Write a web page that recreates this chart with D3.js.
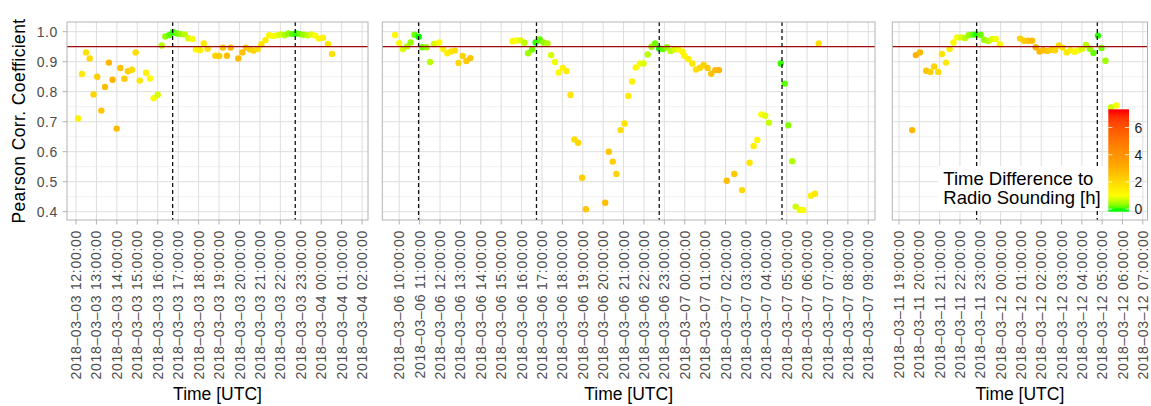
<!DOCTYPE html>
<html>
<head>
<meta charset="utf-8">
<script src="https://cdn.jsdelivr.net/npm/d3@7"></script>
<style>
  body { margin: 0; background: #fff; }
  text { font-family: "Liberation Sans", Arial, sans-serif; }
</style>
</head>
<body>
<div id="chart"></div>
<script>
// days the three panels start on
const panelDates = ['2018-03-03', '2018-03-06', '2018-03-11'];

// panel 1: time in hours after midnight of its start day, correlation, time diff [h]
const t1 = [12.10, 12.29, 12.49, 12.67, 12.86, 13.04, 13.24, 13.42, 13.61, 13.79, 13.99, 14.17, 14.37, 14.54, 14.74, 14.92,
  15.12, 15.43, 15.62, 15.80, 16.00, 16.19, 16.37, 16.57, 16.75, 16.94, 17.12, 17.32, 17.50, 17.69, 17.87, 18.07,
  18.25, 18.44, 18.82, 19.01, 19.19, 19.39, 19.57, 19.94, 20.14, 20.32, 20.52, 20.69, 20.89, 21.07, 21.27, 21.46,
  21.64, 21.84, 22.02, 22.21, 22.39, 22.59, 22.77, 22.96, 23.14, 23.34, 23.52, 23.71, 23.89, 24.09, 24.33, 24.53];
const r1 = [0.711, 0.859, 0.931, 0.911, 0.791, 0.850, 0.737, 0.816, 0.897, 0.840, 0.677, 0.879, 0.843, 0.868, 0.873, 0.931,
  0.837, 0.863, 0.844, 0.778, 0.790, 0.954, 0.984, 0.989, 0.998, 0.994, 0.992, 0.991, 0.978, 0.976, 0.941, 0.938,
  0.961, 0.943, 0.920, 0.919, 0.947, 0.920, 0.947, 0.911, 0.931, 0.947, 0.941, 0.937, 0.942, 0.958, 0.972, 0.988,
  0.986, 0.988, 0.991, 0.988, 0.994, 0.992, 0.994, 0.992, 0.990, 0.988, 0.991, 0.987, 0.977, 0.980, 0.959, 0.926];
const d1 = [1.37, 1.56, 1.76, 1.94, 2.13, 2.31, 2.51, 2.69, 2.88, 2.94, 2.74, 2.56, 2.36, 2.19, 1.99, 1.81,
  1.61, 1.30, 1.11, 0.93, 0.73, 0.54, 0.36, 0.16, 0.02, 0.21, 0.39, 0.59, 0.77, 0.96, 1.14, 1.34,
  1.52, 1.71, 2.09, 2.28, 2.46, 2.66, 2.84, 2.79, 2.59, 2.41, 2.21, 2.04, 1.84, 1.66, 1.46, 1.27,
  1.09, 0.89, 0.71, 0.52, 0.34, 0.14, 0.04, 0.23, 0.41, 0.61, 0.79, 0.98, 1.16, 1.36, 1.60, 1.80];
const sound1 = [16.73, 22.73];

// panel 2
const t2 = [9.80, 10.00, 10.18, 10.38, 10.56, 10.75, 10.95, 11.13, 11.33, 11.51, 11.70, 11.96, 12.16, 12.36, 12.54, 12.73,
  12.91, 13.11, 13.29, 13.49,
  15.56, 15.76, 15.94, 16.14, 16.32, 16.51, 16.69, 16.89, 17.07, 17.27, 17.45, 17.64, 17.82, 18.02, 18.20, 18.40,
  18.59, 18.77, 18.97, 19.15,
  20.10, 20.28, 20.47, 20.65, 20.85, 21.05, 21.23, 21.42, 21.60, 21.80, 21.98, 22.18, 22.37, 22.55, 22.75, 22.93,
  23.13, 23.31, 23.51, 23.69, 23.89, 23.98, 24.17, 24.37, 24.55, 24.75, 24.93, 25.12, 25.30, 25.50, 25.68,
  26.06, 26.43, 26.81, 27.18, 27.38, 27.56, 27.76, 27.95, 28.13, 28.71, 28.90, 29.08, 29.27, 29.44, 29.64, 29.81,
  30.19, 30.39, 30.57];
const r2 = [0.989, 0.962, 0.942, 0.951, 0.964, 0.990, 0.983, 0.948, 0.948, 0.899, 0.959, 0.964, 0.942, 0.928, 0.934, 0.937,
  0.896, 0.919, 0.902, 0.912,
  0.968, 0.971, 0.971, 0.963, 0.928, 0.941, 0.964, 0.974, 0.964, 0.961, 0.922, 0.899, 0.864, 0.879, 0.869, 0.789,
  0.641, 0.630, 0.513, 0.408,
  0.430, 0.600, 0.567, 0.526, 0.672, 0.694, 0.786, 0.834, 0.881, 0.894, 0.894, 0.924, 0.950, 0.961, 0.944, 0.942,
  0.948, 0.936, 0.941, 0.941, 0.933, 0.920, 0.909, 0.894, 0.874, 0.880, 0.889, 0.879, 0.860, 0.872, 0.872,
  0.503, 0.526, 0.472, 0.563, 0.619, 0.639, 0.724, 0.720, 0.697, 0.894, 0.827, 0.688, 0.568, 0.417, 0.406, 0.406,
  0.453, 0.460, 0.961];
const d2 = [1.15, 0.95, 0.77, 0.57, 0.39, 0.20, 0.00, 0.18, 0.38, 0.56, 0.75, 1.01, 1.21, 1.41, 1.59, 1.78,
  1.96, 2.16, 2.34, 2.54,
  1.17, 0.97, 0.79, 0.59, 0.41, 0.22, 0.04, 0.16, 0.34, 0.54, 0.72, 0.91, 1.09, 1.29, 1.47, 1.67,
  1.86, 2.04, 2.24, 2.42,
  2.65, 2.47, 2.28, 2.10, 1.90, 1.70, 1.52, 1.33, 1.15, 0.95, 0.77, 0.57, 0.38, 0.20, 0.00, 0.18,
  0.38, 0.56, 0.76, 0.94, 1.14, 1.23, 1.42, 1.62, 1.80, 2.00, 2.18, 2.37, 2.55, 2.75, 2.93,
  2.71, 2.34, 1.96, 1.59, 1.39, 1.21, 1.01, 0.82, 0.64, 0.06, 0.13, 0.31, 0.50, 0.67, 0.87, 1.04,
  1.42, 1.62, 1.80];
const sound2 = [10.95, 16.73, 22.75, 28.77];

// panel 3
const t3 = [19.65, 19.83, 20.03, 20.34, 20.54, 20.73, 20.93, 21.11, 21.31, 21.49, 21.68, 21.86, 22.06, 22.26, 22.44, 22.63,
  22.81, 23.01, 23.19, 23.39, 23.58, 23.76, 23.96,
  24.96, 25.15, 25.35, 25.55, 25.73, 25.92, 26.10, 26.30, 26.50, 26.68, 26.87, 27.05, 27.25, 27.43, 27.63, 27.82,
  28.00, 28.20, 28.39, 28.57, 28.79, 28.97, 29.16, 29.44, 29.69];
const r3 = [0.672, 0.922, 0.931, 0.870, 0.866, 0.884, 0.866, 0.926, 0.897, 0.942, 0.964, 0.981, 0.981, 0.979, 0.989, 0.990,
  0.991, 0.990, 0.973, 0.969, 0.976, 0.976, 0.958,
  0.977, 0.970, 0.970, 0.970, 0.948, 0.934, 0.938, 0.936, 0.940, 0.938, 0.954, 0.947, 0.931, 0.938, 0.933, 0.938,
  0.942, 0.956, 0.943, 0.929, 0.987, 0.946, 0.903, 0.748, 0.754];
const d3v = [2.85, 2.99, 2.79, 2.48, 2.28, 2.09, 1.89, 1.71, 1.51, 1.33, 1.14, 0.96, 0.76, 0.56, 0.38, 0.19,
  0.01, 0.19, 0.37, 0.57, 0.76, 0.94, 1.14,
  2.14, 2.33, 2.53, 2.73, 2.91, 2.84, 2.66, 2.46, 2.26, 2.08, 1.89, 1.71, 1.51, 1.33, 1.13, 0.94,
  0.76, 0.56, 0.37, 0.19, 0.03, 0.21, 0.40, 0.68, 0.93];
const sound3 = [22.82, 28.76];

// visible time window of each panel, hours after midnight of its start day
const xWindows = [[11.56, 26.29], [9.17, 33.33], [18.67, 31.23]];
const yTicks = [0.4, 0.5, 0.6, 0.7, 0.8, 0.9, 1.0];
const yMinor = [0.45, 0.55, 0.65, 0.75, 0.85, 0.95];
const threshold = 0.95;
const legendTicks = [0, 2, 4, 6];
const dtLimits = [0, 7.15];

const W = 1151, H = 406;
const pTop = 22, pBot = 220;
const panelX = [[67, 368], [382.3, 875], [892.3, 1147.5]];

function toDate(day, h) {
  const p = day.split('-').map(Number);
  return new Date(Date.UTC(p[0], p[1] - 1, p[2]) + h * 3600e3);
}

const panels = [
  {t: t1, r: r1, d: d1, s: sound1},
  {t: t2, r: r2, d: d2, s: sound2},
  {t: t3, r: r3, d: d3v, s: sound3}
];

const color = d3.scaleLinear()
  .domain([0, 1, 3.3, 7.15])
  .range(['#00ff00', '#ffff00', '#ffa500', '#ff0000'])
  .interpolate(d3.interpolateLab)
  .clamp(true);

const y = d3.scaleLinear().domain([0.3723, 1.0323]).range([pBot, pTop]);
const fmt = d3.utcFormat('%Y\u2013%m\u2013%d %H:%M:%S');

const svg = d3.select('#chart').append('svg')
  .attr('width', W).attr('height', H);

panels.forEach(function(p, i) {
  const day = panelDates[i];
  const x = d3.scaleUtc()
    .domain(xWindows[i].map(h => toDate(day, h)))
    .range(panelX[i]);
  const ticks = x.ticks(d3.utcHour.every(1));
  const g = svg.append('g');
  const x0 = panelX[i][0], x1 = panelX[i][1];

  // grid
  g.selectAll('.ymin').data(yMinor).enter().append('line')
    .attr('x1', x0).attr('x2', x1)
    .attr('y1', d => y(d)).attr('y2', d => y(d))
    .attr('stroke', '#ebebeb').attr('stroke-width', 0.7);
  g.selectAll('.ymaj').data(yTicks).enter().append('line')
    .attr('x1', x0).attr('x2', x1)
    .attr('y1', d => y(d)).attr('y2', d => y(d))
    .attr('stroke', '#dedede').attr('stroke-width', 1);
  g.selectAll('.xmaj').data(ticks).enter().append('line')
    .attr('x1', d => x(d)).attr('x2', d => x(d))
    .attr('y1', pTop).attr('y2', pBot)
    .attr('stroke', '#dedede').attr('stroke-width', 1);

  // points
  const pts = p.t.map((h, k) => ({date: toDate(day, h), r: p.r[k], d: p.d[k]}));
  g.selectAll('circle').data(pts).enter().append('circle')
    .attr('cx', d => x(d.date))
    .attr('cy', d => y(d.r))
    .attr('r', 3.2)
    .attr('fill', d => color(d.d));

  // threshold line
  g.append('line')
    .attr('x1', x0).attr('x2', x1)
    .attr('y1', y(threshold)).attr('y2', y(threshold))
    .attr('stroke', '#9e0b0b').attr('stroke-width', 1.3);

  // radio soundings
  g.selectAll('.snd').data(p.s).enter().append('line')
    .attr('x1', h => x(toDate(day, h))).attr('x2', h => x(toDate(day, h)))
    .attr('y1', pTop).attr('y2', pBot)
    .attr('stroke', '#111').attr('stroke-width', 1.3)
    .attr('stroke-dasharray', '4,3');

  // border
  g.append('rect')
    .attr('x', x0).attr('y', pTop)
    .attr('width', x1 - x0).attr('height', pBot - pTop)
    .attr('fill', 'none').attr('stroke', '#b3b3b3').attr('stroke-width', 1);

  // x ticks + labels
  g.selectAll('.xt').data(ticks).enter().append('line')
    .attr('x1', d => x(d)).attr('x2', d => x(d))
    .attr('y1', pBot).attr('y2', pBot + 4.5)
    .attr('stroke', '#b3b3b3');
  g.selectAll('.xl').data(ticks).enter().append('text')
    .attr('transform', d => 'translate(' + x(d) + ',' + 230 + ') rotate(-90)')
    .attr('text-anchor', 'end')
    .attr('dy', '0.36em')
    .style('font-size', '14px')
    .style('letter-spacing', '0.7px')
    .attr('fill', '#4d4d4d')
    .text(d => fmt(d));

  g.append('text')
    .attr('x', (x0 + x1) / 2).attr('y', 400)
    .attr('text-anchor', 'middle')
    .style('font-size', '17.5px')
    .attr('fill', '#000')
    .text('Time [UTC]');

  if (i === 0) {
    g.selectAll('.yt').data(yTicks).enter().append('line')
      .attr('x1', x0 - 4.5).attr('x2', x0)
      .attr('y1', d => y(d)).attr('y2', d => y(d))
      .attr('stroke', '#b3b3b3');
    g.selectAll('.yl').data(yTicks).enter().append('text')
      .attr('x', x0 - 9).attr('y', d => y(d))
      .attr('dy', '0.36em')
      .attr('text-anchor', 'end')
      .style('font-size', '14px')
      .style('letter-spacing', '0.6px')
      .attr('fill', '#4d4d4d')
      .text(d => d.toFixed(1));
    g.append('text')
      .attr('transform', 'translate(25,' + ((pTop + pBot) / 2) + ') rotate(-90)')
      .attr('text-anchor', 'middle')
      .style('font-size', '17.5px')
      .style('letter-spacing', '0.4px')
      .attr('fill', '#000')
      .text('Pearson Corr. Coefficient');
  }
});

// colour legend
const barX = 1108.3, barW = 20.7, barTop = 109.3, barBot = 211.7;
const ly = d3.scaleLinear().domain(dtLimits).range([209.1, 111.9]);

const grad = svg.append('defs').append('linearGradient')
  .attr('id', 'dtgrad').attr('x1', 0).attr('x2', 0).attr('y1', 1).attr('y2', 0);
d3.range(0, 1.0001, 0.02).forEach(function(f) {
  const v = ly.invert(barBot - f * (barBot - barTop));
  grad.append('stop').attr('offset', f).attr('stop-color', color(v));
});

const leg = svg.append('g');
leg.append('rect')
  .attr('x', 938).attr('y', 166).attr('width', barX - 938).attr('height', 45)
  .attr('fill', '#fff');
leg.selectAll('.lt').data(['Time Difference to', 'Radio Sounding [h]']).enter().append('text')
  .attr('x', 943.3).attr('y', (d, k) => 185 + k * 19.3)
  .style('font-size', '18.5px')
  .attr('fill', '#000')
  .text(d => d);
leg.append('rect')
  .attr('x', barX).attr('y', barTop).attr('width', barW).attr('height', barBot - barTop)
  .attr('fill', 'url(#dtgrad)');
legendTicks.forEach(function(v) {
  leg.append('line').attr('x1', barX).attr('x2', barX + 4)
    .attr('y1', ly(v)).attr('y2', ly(v)).attr('stroke', '#fff').attr('stroke-width', 0.8);
  leg.append('line').attr('x1', barX + barW - 4).attr('x2', barX + barW)
    .attr('y1', ly(v)).attr('y2', ly(v)).attr('stroke', '#fff').attr('stroke-width', 0.8);
});
leg.selectAll('.ll').data(legendTicks).enter().append('text')
  .attr('x', 1134.5).attr('y', d => ly(d))
  .attr('dy', '0.36em')
  .style('font-size', '14px')
  .attr('fill', '#1a1a1a')
  .text(d => d);
</script>
</body>
</html>
